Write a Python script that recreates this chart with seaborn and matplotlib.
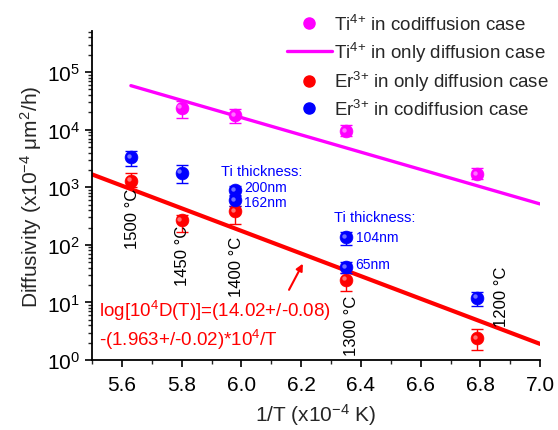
import numpy as np
import pandas as pd
import matplotlib
matplotlib.use("Agg")
import matplotlib.pyplot as plt
import matplotlib.ticker as mticker
from matplotlib.lines import Line2D
import seaborn as sns

# Ti4+ in codiffusion case
ti_x = [5.80, 5.98, 6.35, 6.79]
ti_y = [2.4e4, 1.8e4, 9.5e3, 1.7e3]
ti_lo = [1.6e4, 1.3e4, 7.8e3, 1.4e3]
ti_hi = [3.1e4, 2.3e4, 1.2e4, 2.2e3]

# Ti4+ only diffusion fit: log10 D = a - b * x
ti_fit_a, ti_fit_b = 13.21, 1.50
ti_fit_x = [5.63, 7.0]

# Er3+ in only diffusion case
er_x = [5.63, 5.80, 5.98, 6.35, 6.79]
er_y = [1.3e3, 270, 380, 25, 2.4]
er_lo = [1.0e3, 170, 230, 15.5, 1.5]
er_hi = [1.8e3, 330, 480, 32, 3.4]

# Er3+ fit from the annotation
er_fit_a, er_fit_b = 14.02, 1.963
er_fit_x = [5.5, 7.0]

# Er3+ in codiffusion case
erco_x = [5.63, 5.80, 5.98, 5.98, 6.35, 6.35, 6.79]
erco_y = [3.3e3, 1.8e3, 880, 600, 135, 41, 12]
erco_lo = [2.3e3, 1.2e3, 700, 480, 100, 33, 8.5]
erco_hi = [4.2e3, 2.4e3, 1.05e3, 720, 170, 50, 15]

temp_labels = ["1500 °C", "1450 °C", "1400 °C", "1300 °C", "1200 °C"]
temp_x = [5.637, 5.803, 5.983, 6.37, 6.87]
temp_y = [290, 68, 44, 4.0, 13]

thick_labels = ["200nm", "162nm", "104nm", "65nm"]
thick_x = [6.01, 6.01, 6.385, 6.38]
thick_y = [1000, 550, 135, 46]

MAG, RED, BLUE = "#ff00ff", "#ff0000", "#0000ff"

sns.set_theme(style="ticks")
plt.rcParams["font.family"] = ["Liberation Sans", "DejaVu Sans"]
plt.rcParams["mathtext.fontset"] = "custom"
plt.rcParams["mathtext.rm"] = "Liberation Sans"
plt.rcParams["mathtext.it"] = "Liberation Sans:italic"

fig = plt.figure(figsize=(5.58, 4.31), dpi=100)
ax = fig.add_axes([0.165, 0.1624, 0.803, 0.7636])

def fit_df(xs, a, b):
    xs = np.array(xs)
    return pd.DataFrame({"x": xs, "y": 10 ** (a - b * xs)})

sns.lineplot(data=fit_df(ti_fit_x, ti_fit_a, ti_fit_b), x="x", y="y", color=MAG, lw=2.4, ax=ax)
sns.lineplot(data=fit_df(er_fit_x, er_fit_a, er_fit_b), x="x", y="y", color=RED, lw=3.0, ax=ax)

for xs, ys, lo, hi, c in [(ti_x, ti_y, ti_lo, ti_hi, MAG),
                          (er_x, er_y, er_lo, er_hi, RED),
                          (erco_x, erco_y, erco_lo, erco_hi, BLUE)]:
    ys_a = np.array(ys)
    yerr = [ys_a - np.array(lo), np.array(hi) - ys_a]
    ax.errorbar(xs, ys, yerr=yerr, fmt="none", ecolor=c, elinewidth=1, capsize=4, capthick=1)
    sns.scatterplot(x=xs, y=ys, color=c, s=85, edgecolor=c, linewidth=0.5, ax=ax, zorder=3)
    # small highlight to mimic shaded spheres
    ax.scatter(np.array(xs) - 0.008, ys_a * 1.06, s=10, color="white", alpha=0.45, lw=0, zorder=4)

ax.set_yscale("log")
ax.set_xlim(5.5, 7.0)
ax.set_ylim(1, 5.2e5)
ax.xaxis.set_major_locator(mticker.MultipleLocator(0.2))
ax.xaxis.set_minor_locator(mticker.MultipleLocator(0.1))
ax.xaxis.set_major_formatter(mticker.FormatStrFormatter("%.1f"))
ax.yaxis.set_major_locator(mticker.LogLocator(base=10, numticks=10))
ax.yaxis.set_minor_locator(mticker.LogLocator(base=10, subs=np.arange(2, 10), numticks=20))
ax.yaxis.set_minor_formatter(mticker.NullFormatter())
ax.tick_params(axis="both", which="major", direction="out", length=5, width=1.2, labelsize=15, colors="black")
ax.tick_params(axis="both", which="minor", direction="out", length=3, width=1.0)
ax.tick_params(axis="x", pad=6)
sns.despine(ax=ax)
for s in ["left", "bottom"]:
    ax.spines[s].set_color("black")
    ax.spines[s].set_linewidth(1.3)

ax.set_xlabel("1/T (x10$^{-4}$ K)", fontsize=15, labelpad=5)
ax.set_ylabel("Diffusivity (x10$^{-4}$ μm$^2$/h)", fontsize=15, labelpad=2)

for t, x, y in zip(temp_labels, temp_x, temp_y):
    ax.text(x, y, t, rotation=90, ha="center", va="center", fontsize=12, color="black")
for t, x, y in zip(thick_labels, thick_x, thick_y):
    ax.text(x, y, t, ha="left", va="center", fontsize=10, color=BLUE)
ax.text(5.93, 1.9e3, "Ti thickness:", ha="left", va="center", fontsize=10.5, color=BLUE)
ax.text(6.31, 300, "Ti thickness:", ha="left", va="center", fontsize=10.5, color=BLUE)

ax.text(5.523, 7.3, "log[10$^4$D(T)]=(14.02+/-0.08)", ha="left", va="center", fontsize=13.5, color=RED)
ax.text(5.523, 2.35, "-(1.963+/-0.02)*10$^4$/T", ha="left", va="center", fontsize=13.5, color=RED)
ax.annotate("", xy=(6.21, 52), xytext=(6.155, 15),
            arrowprops=dict(arrowstyle="-|>", color=RED, lw=1.5, mutation_scale=10))

handles = [
    Line2D([], [], ls="none", marker="o", color=MAG, markersize=8),
    Line2D([], [], color=MAG, lw=2.4),
    Line2D([], [], ls="none", marker="o", color=RED, markersize=8),
    Line2D([], [], ls="none", marker="o", color=BLUE, markersize=8),
]
labels = ["Ti$^{4{+}}$ in codiffusion case", "Ti$^{4{+}}$ in only diffusion case",
          "Er$^{3{+}}$ in only diffusion case", "Er$^{3{+}}$ in codiffusion case"]
ax.legend(handles, labels, loc="upper right", bbox_to_anchor=(1.035, 1.075), frameon=False,
          fontsize=13.5, handlelength=2.4, handletextpad=0.1, labelspacing=0.3, borderaxespad=0)

fig.savefig("out.png", dpi=100)
